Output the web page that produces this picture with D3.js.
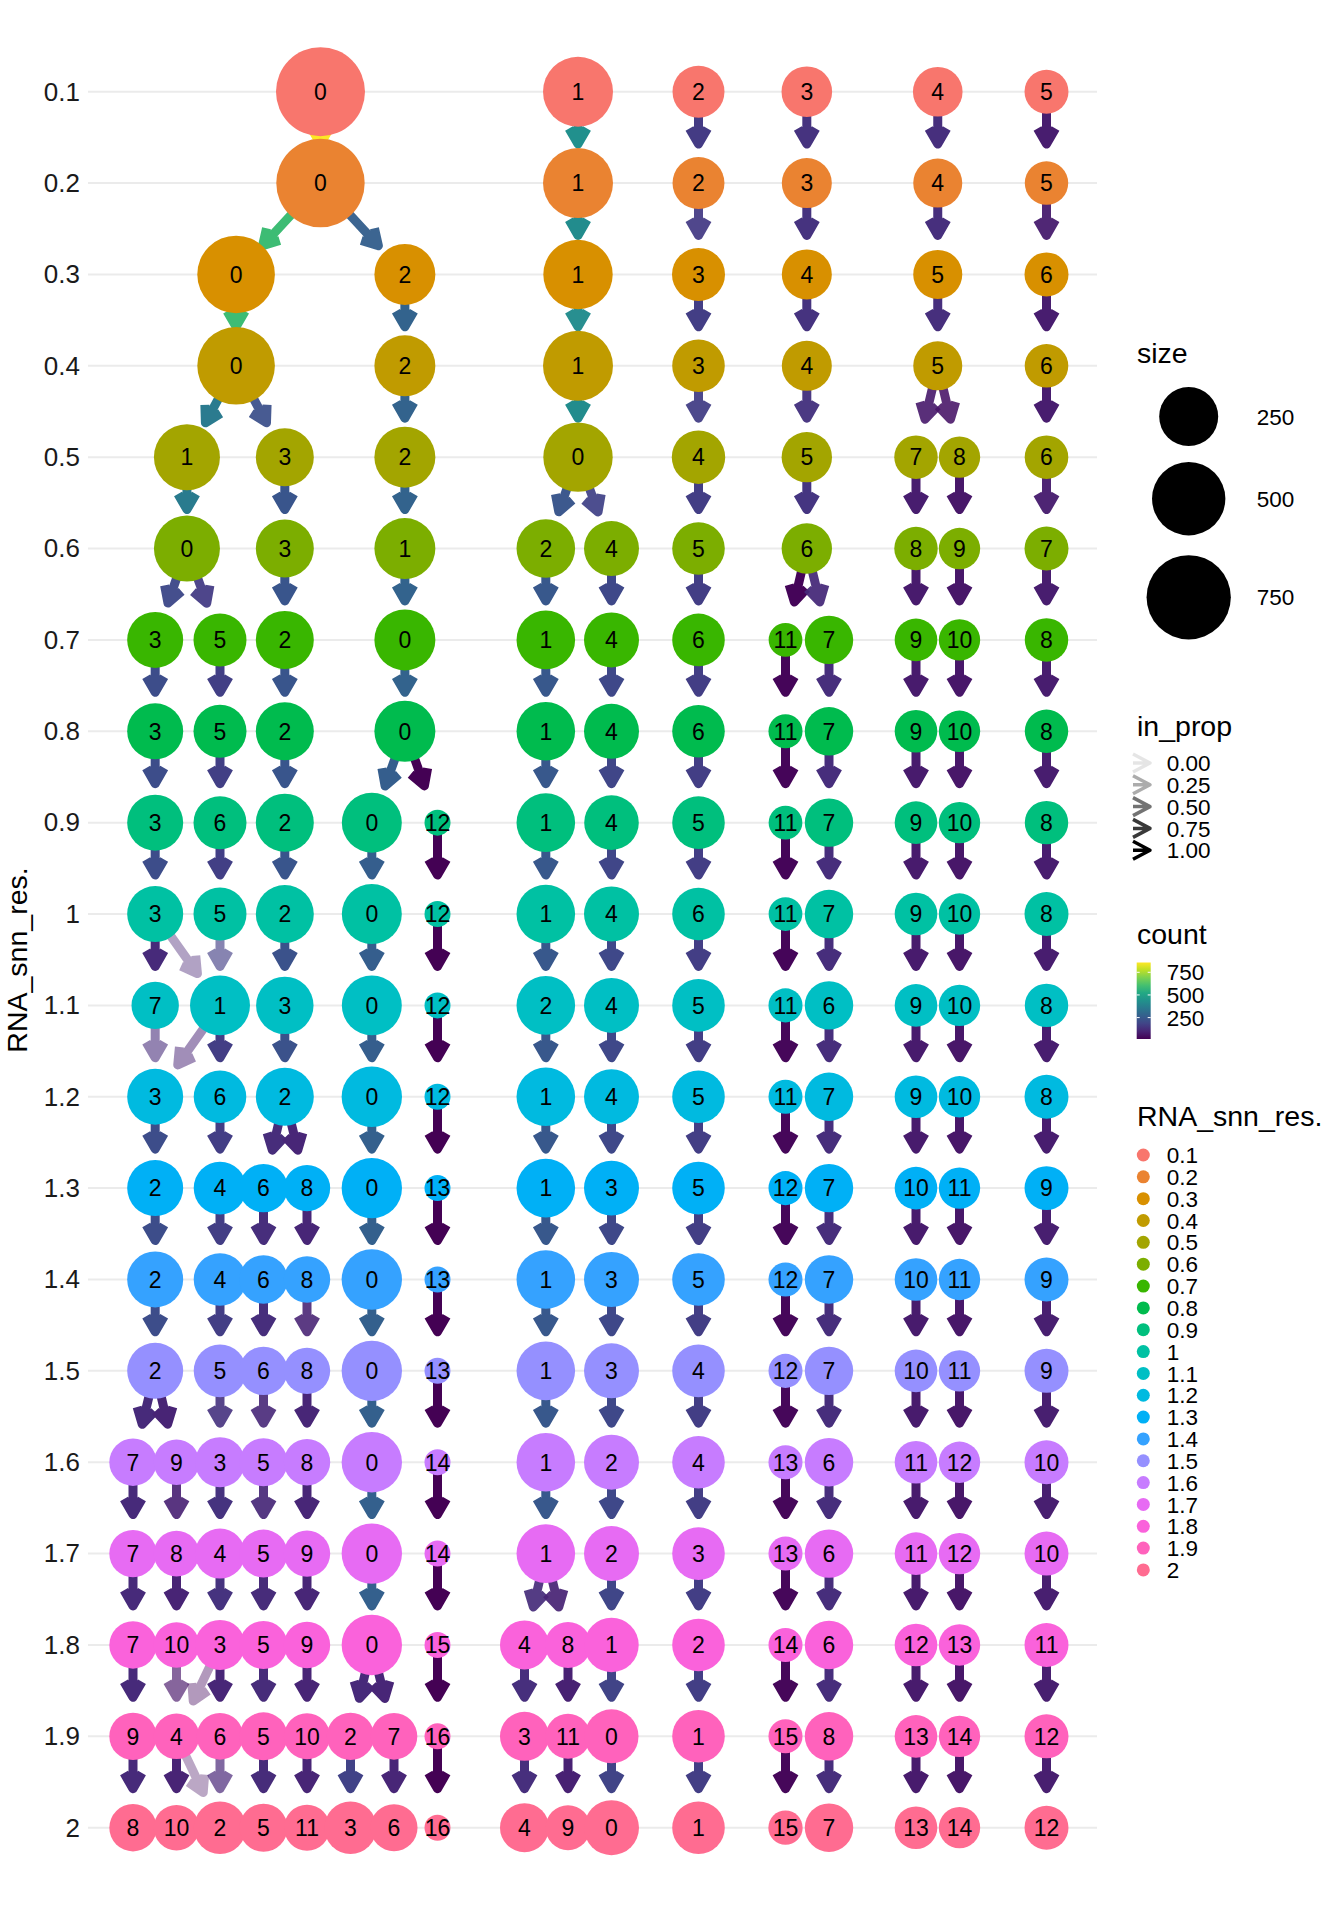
<!DOCTYPE html>
<html>
<head>
<meta charset="utf-8">
<script src="https://cdn.jsdelivr.net/npm/d3@7"></script>
<style>
body { margin: 0; background: #fff; }
text { font-family: "Liberation Sans", Arial, Helvetica, sans-serif; }
</style>
</head>
<body>
<div id="chart"></div>
<script>
// resolutions (rows) and their hue colours
const resLabels = ["0.1","0.2","0.3","0.4","0.5","0.6","0.7","0.8","0.9","1",
                   "1.1","1.2","1.3","1.4","1.5","1.6","1.7","1.8","1.9","2"];
const resColors = ["#F8766D","#EA8331","#D89000","#C09B00","#A3A500","#7CAE00","#39B600","#00BB4E","#00BF7D","#00C1A3",
                   "#00BFC4","#00BAE0","#00B0F6","#35A2FF","#9590FF","#C77CFF","#E76BF3","#FA62DB","#FF62BC","#FF6C91"];

// cluster ids per resolution, in layout order
const nodeCluster = [
    [0,1,2,3,4,5],
    [0,1,2,3,4,5],
    [0,2,1,3,4,5,6],
    [0,2,1,3,4,5,6],
    [1,3,2,0,4,5,7,8,6],
    [0,3,1,2,4,5,6,8,9,7],
    [3,5,2,0,1,4,6,11,7,9,10,8],
    [3,5,2,0,1,4,6,11,7,9,10,8],
    [3,6,2,0,12,1,4,5,11,7,9,10,8],
    [3,5,2,0,12,1,4,6,11,7,9,10,8],
    [7,1,3,0,12,2,4,5,11,6,9,10,8],
    [3,6,2,0,12,1,4,5,11,7,9,10,8],
    [2,4,6,8,0,13,1,3,5,12,7,10,11,9],
    [2,4,6,8,0,13,1,3,5,12,7,10,11,9],
    [2,5,6,8,0,13,1,3,4,12,7,10,11,9],
    [7,9,3,5,8,0,14,1,2,4,13,6,11,12,10],
    [7,8,4,5,9,0,14,1,2,3,13,6,11,12,10],
    [7,10,3,5,9,0,15,4,8,1,2,14,6,12,13,11],
    [9,4,6,5,10,2,7,16,3,11,0,1,15,8,13,14,12],
    [8,10,2,5,11,3,6,16,4,9,0,1,15,7,13,14,12]
];

// tree layout x of each node (same order as nodeCluster)
const nodeX = [
    [4.31,10.23,13,15.49,18.5,21],
    [4.31,10.23,13,15.49,18.5,21],
    [2.37,6.25,10.23,13,15.49,18.5,21],
    [2.37,6.25,10.23,13,15.49,18.5,21],
    [1.24,3.49,6.25,10.23,13,15.49,18,19,21],
    [1.24,3.49,6.25,9.49,11,13,15.49,18,19,21],
    [0.51,2,3.49,6.25,9.49,11,13,15,16,18,19,21],
    [0.51,2,3.49,6.25,9.49,11,13,15,16,18,19,21],
    [0.51,2,3.49,5.49,7,9.49,11,13,15,16,18,19,21],
    [0.51,2,3.49,5.49,7,9.49,11,13,15,16,18,19,21],
    [0.51,2,3.49,5.49,7,9.49,11,13,15,16,18,19,21],
    [0.51,2,3.49,5.49,7,9.49,11,13,15,16,18,19,21],
    [0.51,2,3,4,5.49,7,9.49,11,13,15,16,18,19,21],
    [0.51,2,3,4,5.49,7,9.49,11,13,15,16,18,19,21],
    [0.51,2,3,4,5.49,7,9.49,11,13,15,16,18,19,21],
    [0,1,2,3,4,5.49,7,9.49,11,13,15,16,18,19,21],
    [0,1,2,3,4,5.49,7,9.49,11,13,15,16,18,19,21],
    [0,1,2,3,4,5.49,7,9,10,11,13,15,16,18,19,21],
    [0,1,2,3,4,5,6,7,9,10,11,13,15,16,18,19,21],
    [0,1,2,3,4,5,6,7,9,10,11,13,15,16,18,19,21]
];

// cells per cluster (same order as nodeCluster)
const nodeSize = [
    [874,433,160,145,135,84],
    [858,433,160,139,129,80],
    [591,279,422,172,139,129,84],
    [591,279,433,167,139,129,81],
    [361,236,279,422,177,143,80,65,81],
    [361,236,279,244,196,167,143,80,65,84],
    [209,172,236,279,244,196,167,27,123,74,65,80],
    [209,172,236,279,244,196,167,28,123,74,65,80],
    [209,172,236,264,14,244,191,167,27,123,74,65,80],
    [209,172,236,264,14,244,196,167,27,123,74,65,84],
    [113,264,228,264,14,244,196,167,28,123,74,65,80],
    [209,167,236,270,14,244,196,167,28,123,74,65,84],
    [209,167,123,104,270,14,244,196,167,28,123,74,65,84],
    [209,167,123,104,270,14,244,196,167,28,123,74,65,84],
    [209,167,123,104,270,14,244,196,167,28,123,74,65,84],
    [113,97,139,119,104,270,14,244,196,167,28,123,74,65,84],
    [113,97,139,119,104,270,14,244,196,167,28,123,74,65,84],
    [113,97,139,119,104,270,14,129,101,189,167,28,123,74,65,84],
    [113,97,106,119,101,113,106,14,129,92,184,167,28,123,74,65,84],
    [113,97,165,119,101,165,110,14,129,92,196,167,29,123,74,65,84]
];

// edges between consecutive resolutions: [from cluster, to cluster, count, in_prop]
const edgeList = [
    [[0,0,858,1],[1,1,433,1],[2,2,160,1],[3,3,139,1],[4,4,129,1],[5,5,80,1]],
    [[0,0,591,1],[0,2,267,0.96],[1,1,422,1],[2,3,160,0.93],[3,4,139,1],[4,5,129,1],[5,6,80,0.95]],
    [[0,0,591,1],[2,2,279,1],[1,1,422,0.97],[3,3,167,1],[4,4,139,1],[5,5,129,1],[6,6,81,1]],
    [[0,1,358,0.99],[0,3,220,0.93],[2,2,279,1],[1,0,422,1],[3,4,167,0.94],[4,5,139,0.97],[5,7,72,0.9],[5,8,57,0.88],[6,6,81,1]],
    [[1,0,361,1],[3,3,236,1],[2,1,279,1],[0,2,240,0.98],[0,4,182,0.93],[4,5,167,1],[5,6,143,1],[7,8,80,1],[8,9,65,1],[6,7,81,0.96]],
    [[0,3,200,0.96],[0,5,161,0.94],[3,2,236,1],[1,0,279,1],[2,1,244,1],[4,4,196,1],[5,6,167,1],[6,11,27,1],[6,7,116,0.94],[8,9,74,1],[9,10,65,1],[7,8,80,1]],
    [[3,3,209,1],[5,5,172,1],[2,2,236,1],[0,0,279,1],[1,1,244,1],[4,4,196,1],[6,6,167,1],[11,11,27,1],[7,7,123,1],[9,9,74,1],[10,10,65,1],[8,8,80,1]],
    [[3,3,209,1],[5,6,172,1],[2,2,236,1],[0,0,264,1],[0,12,14,1],[1,1,244,1],[4,4,191,1],[6,5,167,1],[11,11,27,1],[7,7,123,1],[9,9,74,1],[10,10,65,1],[8,8,80,1]],
    [[3,3,209,1],[6,5,172,1],[2,2,236,1],[0,0,264,1],[12,12,14,1],[1,1,244,1],[4,4,191,1],[5,6,167,1],[11,11,27,1],[7,7,123,1],[9,9,74,1],[10,10,65,1],[8,8,80,1]],
    [[3,7,113,1],[3,1,96,0.36],[5,1,168,0.6],[2,3,228,1],[0,0,264,1],[12,12,14,1],[1,2,244,1],[4,4,196,1],[6,5,167,1],[11,11,27,1],[7,6,123,1],[9,9,74,1],[10,10,65,1],[8,8,80,1]],
    [[7,3,113,0.54],[1,3,96,0.46],[1,6,167,1],[3,2,228,1],[0,0,264,1],[12,12,14,1],[2,1,244,1],[4,4,196,1],[5,5,167,1],[11,11,28,1],[6,7,123,1],[9,9,74,1],[10,10,65,1],[8,8,80,1]],
    [[3,2,209,1],[6,4,167,1],[2,6,120,1],[2,8,104,1],[0,0,270,1],[12,13,14,1],[1,1,244,1],[4,3,196,1],[5,5,167,1],[11,12,28,1],[7,7,123,1],[9,10,74,1],[10,11,65,1],[8,9,80,1]],
    [[2,2,209,1],[4,4,167,1],[6,6,123,1],[8,8,104,1],[0,0,270,1],[13,13,14,1],[1,1,244,1],[3,3,196,1],[5,5,167,1],[12,12,28,1],[7,7,123,1],[10,10,74,1],[11,11,65,1],[9,9,84,1]],
    [[2,2,209,1],[4,5,167,1],[6,6,123,1],[8,8,96,0.88],[0,0,270,1],[13,13,14,1],[1,1,244,1],[3,3,196,1],[5,4,167,1],[12,12,28,1],[7,7,123,1],[10,10,74,1],[11,11,65,1],[9,9,84,1]],
    [[2,7,113,1],[2,9,97,1],[5,3,139,0.9],[6,5,110,0.9],[8,8,104,1],[0,0,270,1],[13,14,14,1],[1,1,244,1],[3,2,196,1],[4,4,167,1],[12,13,28,1],[7,6,123,1],[10,11,74,1],[11,12,65,1],[9,10,84,1]],
    [[7,7,113,1],[9,8,90,0.9],[3,4,139,1],[5,5,112,0.92],[8,9,104,1],[0,0,270,1],[14,14,14,1],[1,1,244,1],[2,2,196,1],[4,3,167,1],[13,13,28,1],[6,6,123,1],[11,11,74,1],[12,12,65,1],[10,10,84,1]],
    [[7,7,113,1],[8,10,97,1],[4,3,139,1],[5,5,119,1],[9,9,104,1],[0,0,270,1],[14,15,14,1],[1,4,122,0.92],[1,8,95,0.92],[2,1,189,1],[3,2,167,1],[13,14,28,1],[6,6,123,1],[11,12,74,1],[12,13,65,1],[10,11,84,1]],
    [[7,9,113,1],[10,4,62,0.62],[3,4,35,0.35],[3,6,104,1],[5,5,119,1],[9,10,101,1],[0,2,113,1],[0,7,106,1],[15,16,14,1],[4,3,129,1],[8,11,92,1],[1,0,184,1],[2,1,167,1],[14,15,28,1],[6,8,123,1],[12,13,74,1],[13,14,65,1],[11,12,84,1]],
    [[9,8,113,1],[4,10,97,1],[4,2,50,0.3],[6,2,106,0.66],[5,5,119,1],[10,11,101,1],[2,3,180,1],[7,6,106,1],[16,16,14,1],[3,4,129,1],[11,9,92,1],[0,0,184,1],[1,1,167,1],[15,15,28,1],[8,7,123,1],[13,13,74,1],[14,14,65,1],[12,12,84,1]]
];

const sizeBreaks = [250, 500, 750];
const propBreaks = [0, 0.25, 0.5, 0.75, 1];
const propLabels = ["0.00", "0.25", "0.50", "0.75", "1.00"];
const countBreaks = [250, 500, 750];

const width = 1344;
const height = 1920;

const svg = d3.select("#chart")
    .append("svg")
    .attr("width", width)
    .attr("height", height)
    .style("background", "#fff");

const x = d3.scaleLinear().domain([0, 21]).range([133, 1046.5]);
const y = d3.scalePoint().domain(resLabels).range([91.7, 1827.7]);
// ggplot area scale: sqrt of the rescaled size, min size 14 cells
const sizeMin = 14;
const rScale = d3.scaleSqrt().domain([0, 860]).range([13, 44.5]);
const radius = (v) => rScale(Math.max(0, v - sizeMin));

// nodes flattened
let nodes = [];
resLabels.forEach((res, i) => {
    nodeCluster[i].forEach((cl, j) => {
        nodes.push({res: res, ri: i, cluster: cl, lx: nodeX[i][j], size: nodeSize[i][j]});
    });
});
const findNode = (ri, cl) => nodes.find(n => n.ri === ri && n.cluster === cl);

let edges = [];
edgeList.forEach((list, i) => {
    list.forEach(e => {
        edges.push({from: findNode(i, e[0]), to: findNode(i + 1, e[1]), count: e[2], prop: e[3]});
    });
});

const countExtent = d3.extent(edges, d => d.count);
const edgeColor = d3.scaleSequential(d3.interpolateViridis).domain(countExtent);
const edgeAlpha = d3.scaleLinear().domain([0, 1]).range([0.1, 1]);

// grid lines
svg.append("g")
    .selectAll("line")
    .data(resLabels)
    .join("line")
    .attr("x1", 88)
    .attr("x2", 1097)
    .attr("y1", d => y(d))
    .attr("y2", d => y(d))
    .attr("stroke", "#ebebeb")
    .attr("stroke-width", 2);

// y axis
const yAxis = svg.append("g")
    .attr("transform", "translate(88,0)")
    .call(d3.axisLeft(y).tickSize(0).tickPadding(8));
yAxis.select(".domain").remove();
yAxis.selectAll("text")
    .style("font-size", "26px")
    .style("font-family", "Liberation Sans, Arial, sans-serif")
    .attr("fill", "#1a1a1a");

svg.append("text")
    .attr("transform", "rotate(-90)")
    .attr("x", -960)
    .attr("y", 27)
    .attr("text-anchor", "middle")
    .style("font-size", "28.5px")
    .text("RNA_snn_res.");

// edges with arrow heads
const tipGap = 39;
const headLen = 18;
const headAng = Math.PI / 6;

function arrowPath(d) {
    const px = x(d.from.lx), py = y(d.from.res);
    const cx = x(d.to.lx), cy = y(d.to.res);
    const len = Math.hypot(cx - px, cy - py);
    const ux = (cx - px) / len, uy = (cy - py) / len;
    const tx = cx - ux * tipGap, ty = cy - uy * tipGap;
    const a = Math.atan2(uy, ux);
    const w1x = tx - headLen * Math.cos(a - headAng), w1y = ty - headLen * Math.sin(a - headAng);
    const w2x = tx - headLen * Math.cos(a + headAng), w2y = ty - headLen * Math.sin(a + headAng);
    return `M${px},${py}L${tx},${ty}M${w1x},${w1y}L${tx},${ty}L${w2x},${w2y}`;
}

svg.append("g")
    .selectAll("path")
    .data(edges)
    .join("path")
    .attr("d", arrowPath)
    .attr("fill", "none")
    .attr("stroke", d => edgeColor(d.count))
    .attr("stroke-opacity", d => edgeAlpha(d.prop))
    .attr("stroke-width", 9)
    .attr("stroke-linejoin", "round");

// nodes
svg.append("g")
    .selectAll("circle")
    .data(nodes)
    .join("circle")
    .attr("cx", d => x(d.lx))
    .attr("cy", d => y(d.res))
    .attr("r", d => radius(d.size))
    .attr("fill", d => resColors[d.ri]);

svg.append("g")
    .selectAll("text")
    .data(nodes)
    .join("text")
    .attr("x", d => x(d.lx))
    .attr("y", d => y(d.res))
    .attr("dy", "0.36em")
    .attr("text-anchor", "middle")
    .style("font-size", "23px")
    .text(d => d.cluster);

// ---- legends ----
const legX = 1137;
const keyX = 1166.7;

function legendTitle(txt, yy) {
    svg.append("text")
        .attr("x", legX)
        .attr("y", yy)
        .style("font-size", "28.5px")
        .text(txt);
}

// size
legendTitle("size", 363);
const sizeKeyY = [416.6, 498.7, 597.3];
const sizeLeg = svg.append("g");
sizeLeg.selectAll("circle")
    .data(sizeBreaks)
    .join("circle")
    .attr("cx", 1188.7)
    .attr("cy", (d, i) => sizeKeyY[i])
    .attr("r", d => radius(d))
    .attr("fill", "#000");
sizeLeg.selectAll("text")
    .data(sizeBreaks)
    .join("text")
    .attr("x", 1256.7)
    .attr("y", (d, i) => sizeKeyY[i])
    .attr("dy", "0.36em")
    .style("font-size", "22.5px")
    .text(d => d);

// in_prop
legendTitle("in_prop", 735.5);
const propLeg = svg.append("g");
const propY = (i) => 763 + i * 21.8;
propLeg.selectAll("path")
    .data(propBreaks)
    .join("path")
    .attr("d", (d, i) => {
        const yy = propY(i);
        return `M1133,${yy}L1150,${yy}M1133,${yy - 9}L1150,${yy}L1133,${yy + 9}`;
    })
    .attr("fill", "none")
    .attr("stroke", "#000")
    .attr("stroke-width", 3.5)
    .attr("stroke-linejoin", "round")
    .attr("stroke-opacity", d => edgeAlpha(d));
propLeg.selectAll("text")
    .data(propBreaks)
    .join("text")
    .attr("x", keyX)
    .attr("y", (d, i) => propY(i))
    .attr("dy", "0.36em")
    .style("font-size", "22.5px")
    .text((d, i) => propLabels[i]);

// count colour bar
legendTitle("count", 944);
const barY = d3.scaleLinear().domain(countExtent).range([1039, 962.5]);
const grad = svg.append("defs").append("linearGradient")
    .attr("id", "countGrad")
    .attr("x1", 0).attr("y1", 1).attr("x2", 0).attr("y2", 0);
d3.range(0, 1.0001, 0.1).forEach(t => {
    grad.append("stop").attr("offset", t).attr("stop-color", d3.interpolateViridis(t));
});
svg.append("rect")
    .attr("x", 1136.7)
    .attr("y", 962.5)
    .attr("width", 14)
    .attr("height", 1039 - 962.5)
    .attr("fill", "url(#countGrad)");
const cbar = svg.append("g");
cbar.selectAll("path")
    .data(countBreaks)
    .join("path")
    .attr("d", d => `M1136.7,${barY(d)}h3M1147.7,${barY(d)}h3`)
    .attr("stroke", "#fff")
    .attr("stroke-width", 1);
cbar.selectAll("text")
    .data(countBreaks)
    .join("text")
    .attr("x", keyX)
    .attr("y", d => barY(d))
    .attr("dy", "0.36em")
    .style("font-size", "22.5px")
    .text(d => d);

// resolution colours
legendTitle("RNA_snn_res.", 1126);
const resLeg = svg.append("g");
resLeg.selectAll("circle")
    .data(resLabels)
    .join("circle")
    .attr("cx", 1143.3)
    .attr("cy", (d, i) => 1155 + i * 21.84)
    .attr("r", 6.5)
    .attr("fill", (d, i) => resColors[i]);
resLeg.selectAll("text")
    .data(resLabels)
    .join("text")
    .attr("x", keyX)
    .attr("y", (d, i) => 1155 + i * 21.84)
    .attr("dy", "0.36em")
    .style("font-size", "22.5px")
    .text(d => d);
</script>
</body>
</html>
